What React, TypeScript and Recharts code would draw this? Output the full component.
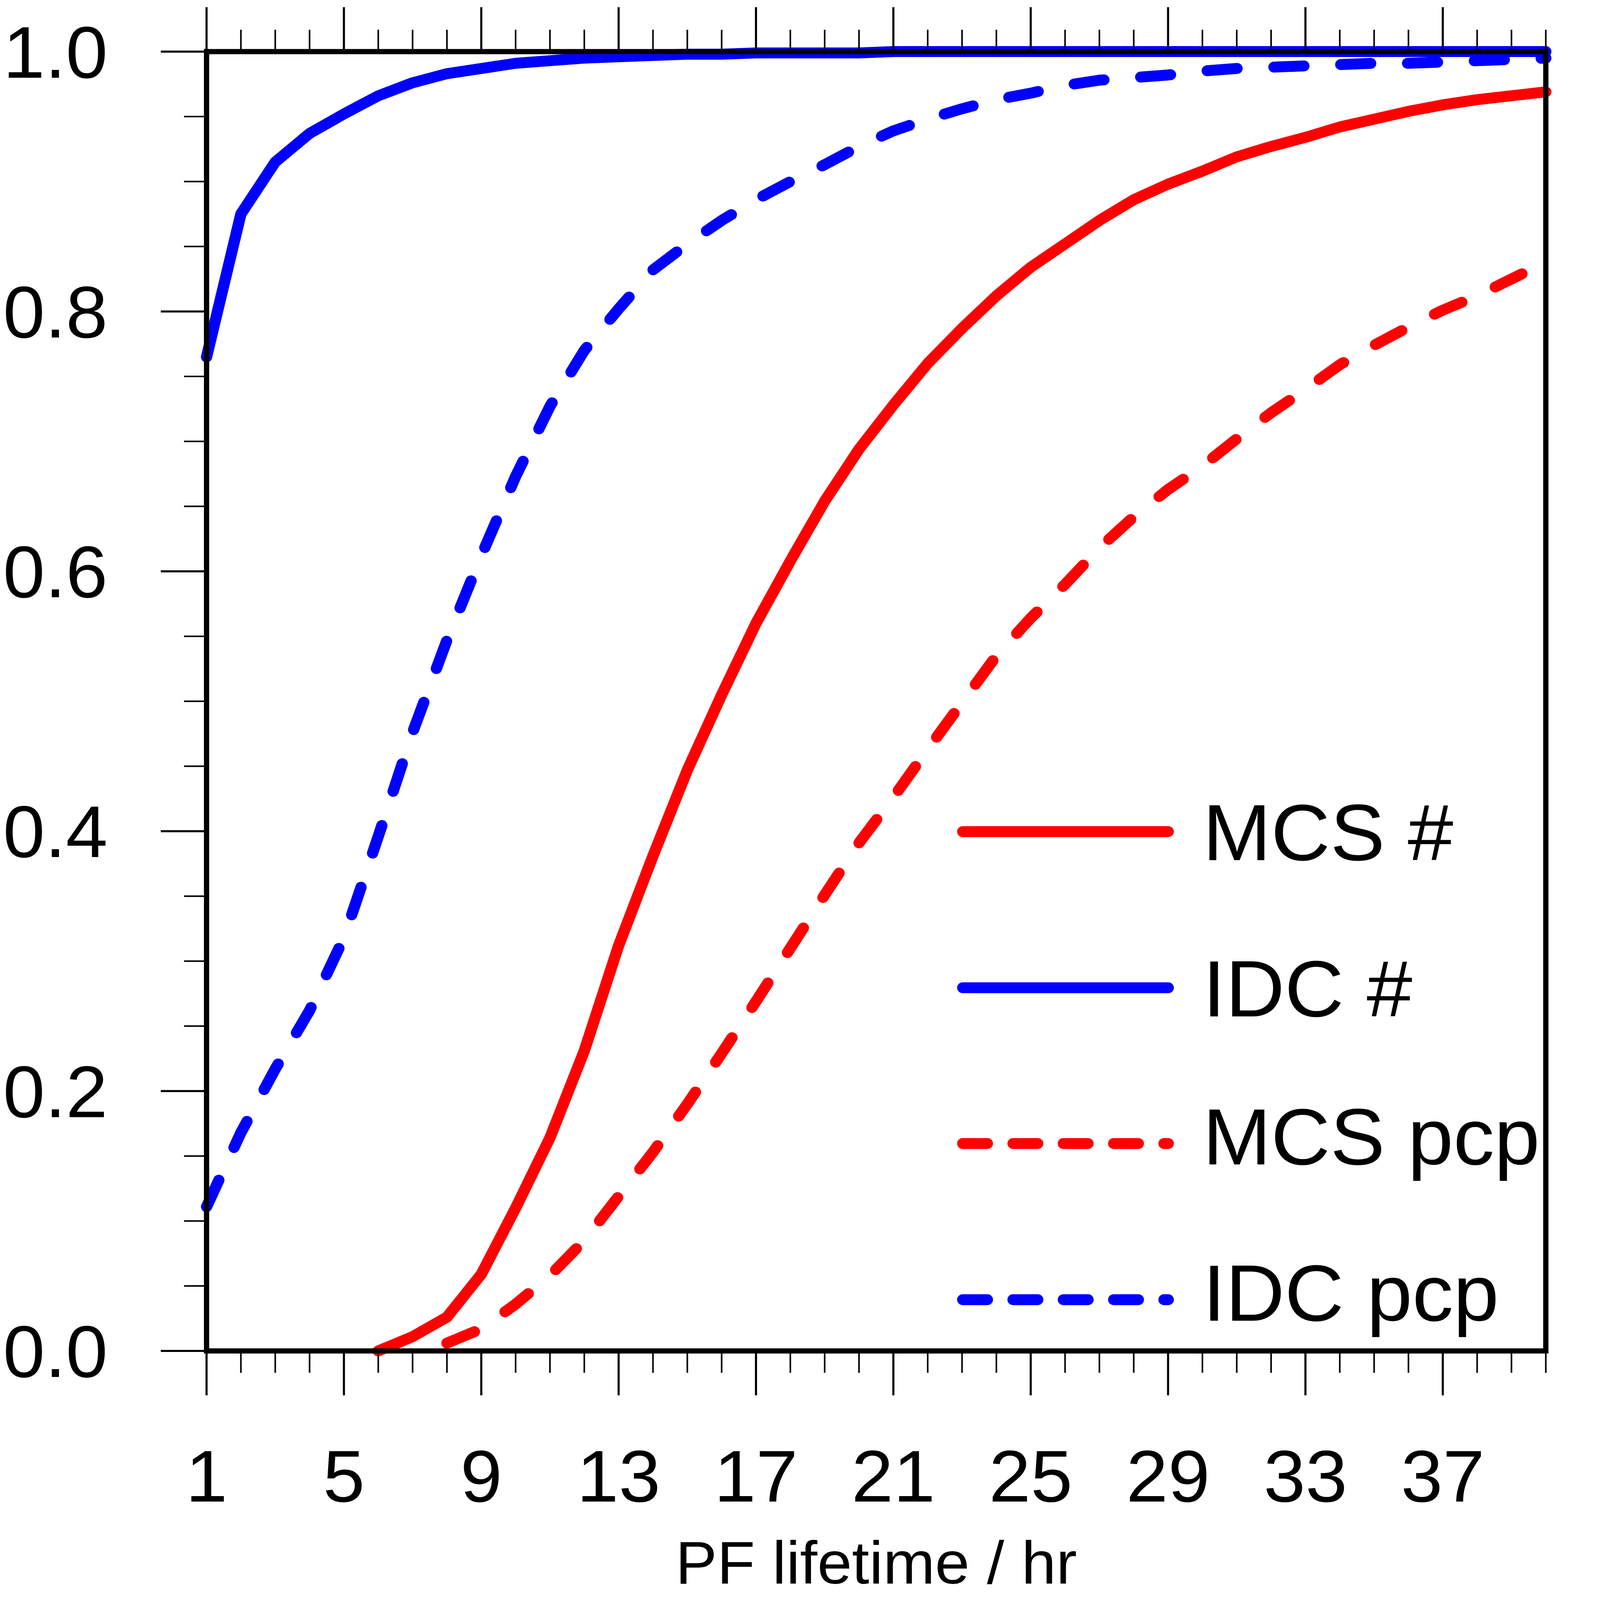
import React from 'react';
import { LineChart, Line, XAxis, YAxis, Legend } from 'recharts';

const FONT = '"Liberation Sans", Arial, Helvetica, sans-serif';
const W = 4547;
const H = 4683;

const hours = [
  1, 2, 3, 4, 5, 6, 7, 8, 9, 10, 11, 12, 13, 14, 15, 16, 17, 18, 19, 20,
  21, 22, 23, 24, 25, 26, 27, 28, 29, 30, 31, 32, 33, 34, 35, 36, 37, 38, 39, 40,
];

// cumulative fractions
const mcsCount = [
  null, null, null, null, null, 0.0, 0.011, 0.026, 0.059, 0.11,
  0.164, 0.231, 0.312, 0.381, 0.447, 0.505, 0.56, 0.608, 0.654, 0.694,
  0.728, 0.76, 0.787, 0.812, 0.834, 0.852, 0.87, 0.886, 0.898, 0.908,
  0.919, 0.927, 0.934, 0.942, 0.948, 0.954, 0.959, 0.963, 0.966, 0.969,
];
const idcCount = [
  0.765, 0.875, 0.915, 0.937, 0.952, 0.966, 0.976, 0.983, 0.987, 0.991,
  0.993, 0.995, 0.996, 0.997, 0.998, 0.998, 0.999, 0.999, 0.999, 0.999,
  1, 1, 1, 1, 1, 1, 1, 1, 1, 1,
  1, 1, 1, 1, 1, 1, 1, 1, 1, 1,
];
const mcsPcp = [
  null, null, null, null, null, null, null, 0.006, 0.017, 0.036,
  0.058, 0.085, 0.119, 0.153, 0.19, 0.229, 0.269, 0.31, 0.351, 0.391,
  0.426, 0.463, 0.499, 0.535, 0.564, 0.59, 0.618, 0.642, 0.663, 0.681,
  0.702, 0.722, 0.74, 0.759, 0.774, 0.788, 0.801, 0.812, 0.825, 0.838,
];
const idcPcp = [
  0.111, 0.168, 0.217, 0.262, 0.318, 0.396, 0.476, 0.547, 0.612, 0.673,
  0.727, 0.77, 0.802, 0.832, 0.852, 0.87, 0.886, 0.9, 0.913, 0.927,
  0.939, 0.948, 0.956, 0.963, 0.968, 0.974, 0.978, 0.98, 0.982, 0.985,
  0.987, 0.988, 0.989, 0.99, 0.991, 0.991, 0.992, 0.993, 0.994, 0.995,
];

const xTicks = hours;
const xLabelTicks = [1, 5, 9, 13, 17, 21, 25, 29, 33, 37];
const yTicks = [
  0, 0.05, 0.1, 0.15, 0.2, 0.25, 0.3, 0.35, 0.4, 0.45, 0.5,
  0.55, 0.6, 0.65, 0.7, 0.75, 0.8, 0.85, 0.9, 0.95, 1,
];
const yLabelTicks = [0, 0.2, 0.4, 0.6, 0.8, 1];

const seriesKeys = ['mcsCount', 'idcCount', 'mcsPcp', 'idcPcp'];
const seriesNames = ['MCS #', 'IDC #', 'MCS pcp', 'IDC pcp'];
const seriesColors = ['#ff0000', '#0000ff', '#ff0000', '#0000ff'];
const seriesDashed = [false, false, true, true];

const data = hours.map((h, i) => ({
  h,
  mcsCount: mcsCount[i],
  idcCount: idcCount[i],
  mcsPcp: mcsPcp[i],
  idcPcp: idcPcp[i],
}));

const MAJOR = 130;
const MINOR = 64;
const isMajorY = (v: number) => yLabelTicks.some((t) => Math.abs(t - v) < 1e-6);

const BottomTick = (props: any) => {
  const { x, y, payload } = props;
  const major = xLabelTicks.includes(payload.value);
  return (
    <g>
      <line x1={x} y1={y} x2={x} y2={y + (major ? MAJOR : MINOR)} stroke="#000" strokeWidth={major ? 6 : 4.5} />
      {major && (
        <text x={x} y={y + 441} textAnchor="middle" fontSize={214} fill="#000" fontFamily={FONT}>
          {payload.value}
        </text>
      )}
    </g>
  );
};

const TopTick = (props: any) => {
  const { x, y, payload } = props;
  const major = xLabelTicks.includes(payload.value);
  return (
    <line x1={x} y1={y} x2={x} y2={y - (major ? MAJOR : MINOR)} stroke="#000" strokeWidth={major ? 6 : 4.5} />
  );
};

const LeftTick = (props: any) => {
  const { x, y, payload } = props;
  const major = isMajorY(payload.value);
  return (
    <g>
      <line x1={x} y1={y} x2={x - (major ? MAJOR : MINOR)} y2={y} stroke="#000" strokeWidth={major ? 6 : 4.5} />
      {major && (
        <text x={x - 281} y={y + 76} textAnchor="end" fontSize={214} fill="#000" fontFamily={FONT}>
          {Number(payload.value).toFixed(1)}
        </text>
      )}
    </g>
  );
};

const RightTick = (props: any) => {
  const { x, y, payload } = props;
  const major = isMajorY(payload.value);
  return (
    <line x1={x} y1={y} x2={x + (major ? MAJOR : MINOR)} y2={y} stroke="#000" strokeWidth={major ? 6 : 4.5} />
  );
};

const renderLegend = () => {
  const rowY = [2434, 2891, 3347, 3804];
  const baseY = [2518, 2975, 3408, 3865];
  return (
    <svg width={W} height={H} style={{ pointerEvents: 'none' }}>
      {seriesNames.map((name, i) => (
        <g key={name}>
          <line
            x1={2736}
            x2={3320}
            y1={rowY[i]}
            y2={rowY[i]}
            stroke={seriesColors[i]}
            strokeWidth={32}
            strokeLinecap="round"
            strokeDasharray={seriesDashed[i] ? '70 73' : undefined}
          />
          <text x={3418} y={baseY[i]} fontSize={233} fill="#000" fontFamily={FONT}>
            {name}
          </text>
        </g>
      ))}
    </svg>
  );
};

const axisLine = { stroke: '#000', strokeWidth: 15, strokeLinecap: 'square' as const };

export default function App() {
  // fit the fixed-size chart into whatever viewport the page really gets
  const vw = document.documentElement.clientWidth || W;
  const vh = document.documentElement.clientHeight || H;
  const sx = Math.min(1, vw / W);
  const sy = Math.min(1, vh / H);

  return (
    <div style={{ position: 'fixed', left: 0, top: 0, width: vw, height: vh, overflow: 'hidden', background: '#fff' }}>
      <div style={{ width: W, height: H, transform: `scale(${sx}, ${sy})`, transformOrigin: '0 0', fontFamily: FONT }}>
        <LineChart width={W} height={H} data={data} margin={{ top: 0, right: 0, bottom: 0, left: 0 }}>
          <XAxis
            xAxisId="bottom"
            dataKey="h"
            type="number"
            domain={[1, 40]}
            ticks={xTicks}
            interval={0}
            orientation="bottom"
            height={729}
            axisLine={axisLine}
            tickLine={false}
            tickSize={0}
            tickMargin={0}
            tick={<BottomTick />}
            label={{
              value: 'PF lifetime / hr',
              position: 'insideBottom',
              offset: 48,
              fontSize: 177,
              fill: '#000',
              fontFamily: FONT,
            }}
          />
          <XAxis
            xAxisId="top"
            dataKey="h"
            type="number"
            domain={[1, 40]}
            ticks={xTicks}
            interval={0}
            orientation="top"
            height={151}
            axisLine={axisLine}
            tickLine={false}
            tickSize={0}
            tickMargin={0}
            tick={<TopTick />}
          />
          <YAxis
            yAxisId="left"
            type="number"
            domain={[0, 1]}
            ticks={yTicks}
            interval={0}
            orientation="left"
            width={587}
            axisLine={axisLine}
            tickLine={false}
            tickSize={0}
            tickMargin={0}
            tick={<LeftTick />}
          />
          <YAxis
            yAxisId="right"
            type="number"
            domain={[0, 1]}
            ticks={yTicks}
            interval={0}
            orientation="right"
            width={154}
            axisLine={axisLine}
            tickLine={false}
            tickSize={0}
            tickMargin={0}
            tick={<RightTick />}
          />
          {seriesKeys.map((key, i) => (
            <Line
              key={key}
              xAxisId="bottom"
              yAxisId="left"
              type="linear"
              dataKey={key}
              name={seriesNames[i]}
              stroke={seriesColors[i]}
              strokeWidth={32}
              strokeLinecap="round"
              strokeLinejoin="round"
              strokeDasharray={seriesDashed[i] ? '85 105' : undefined}
              dot={false}
              activeDot={false}
              connectNulls={false}
              isAnimationActive={false}
            />
          ))}
          <Legend
            layout="vertical"
            align="center"
            verticalAlign="middle"
            content={renderLegend}
            wrapperStyle={{ left: 0, top: 0, width: W, height: H, pointerEvents: 'none' }}
          />
        </LineChart>
      </div>
    </div>
  );
}
